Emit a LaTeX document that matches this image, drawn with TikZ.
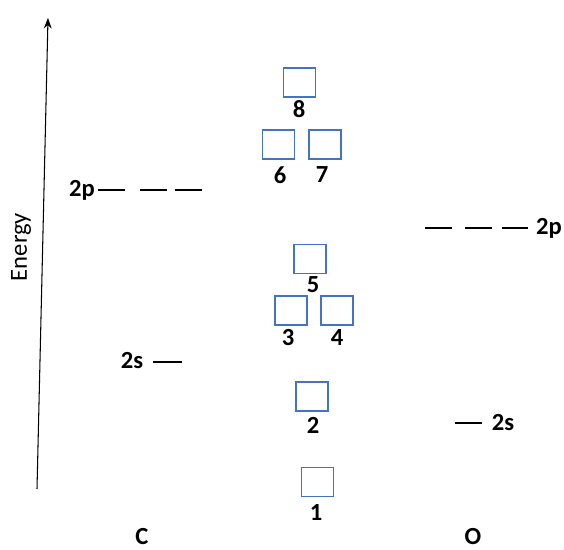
\documentclass[tikz,border=0pt]{standalone}
\usepackage{fontspec}
\setmainfont{Carlito}
\usepackage{xcolor}
\usetikzlibrary{arrows.meta}

\definecolor{orbblue}{HTML}{4472C4}

\begin{document}
\begin{tikzpicture}[
  x=0.02cm, y=-0.02cm,
  orb/.style={draw=orbblue, line width=1.1pt, fill=white,
              minimum width=0.64cm, minimum height=0.58cm, inner sep=0pt},
  num/.style={font=\bfseries\fontsize{14}{16}\selectfont, inner sep=0pt},
  lev/.style={line width=0.9pt},
  arr/.style={-{Stealth[length=6pt]}, line width=0.6pt},
]
  \useasboundingbox (0,0) rectangle (564,550);

  % energy axis
  \coordinate (bot) at (37,489);
  \coordinate (top) at (48,18);
  \draw[arr] (bot) -- (top);
  \node[rotate=90, font=\fontsize{14}{16}\selectfont] (energy) at (21,247) {Energy};

  % carbon levels
  \node[num] (c2p) at (82,190) {2p};
  \draw[lev] (98,190) -- (125,190);
  \draw[lev] (140,190) -- (167,190);
  \draw[lev] (175,190) -- (202,190);
  \node[num] (c2s) at (132,361) {2s};
  \draw[lev] (153,362) -- (182,362);

  % oxygen levels
  \node[num] (o2p) at (549,228) {2p};
  \draw[lev] (425,228) -- (452,228);
  \draw[lev] (465,228) -- (492,228);
  \draw[lev] (502,228) -- (528,228);
  \node[num] (o2s) at (503,423) {2s};
  \draw[lev] (455,423) -- (482,423);

  % molecular orbitals
  \node[orb] (m8) at (299.5,82.5) {};
  \node[orb] (m6) at (278.5,144.5) {};
  \node[orb] (m7) at (325,144.5) {};
  \node[orb] (m5) at (310,259) {};
  \node[orb] (m3) at (291,310.5) {};
  \node[orb] (m4) at (337,310.5) {};
  \node[orb] (m2) at (312,396.5) {};
  \node[orb] (m1) at (317.5,482) {};

  \node[num] (l8) at (299,109) {8};
  \node[num] (l6) at (280,175) {6};
  \node[num] (l7) at (322,175) {7};
  \node[num] (l5) at (313,285) {5};
  \node[num] (l3) at (288,338) {3};
  \node[num] (l4) at (337,338) {4};
  \node[num] (l2) at (313,425) {2};
  \node[num] (l1) at (316,513) {1};

  % atoms
  \node[num] (cat) at (142,537) {C};
  \node[num] (oat) at (473,537) {O};
\end{tikzpicture}
\end{document}
